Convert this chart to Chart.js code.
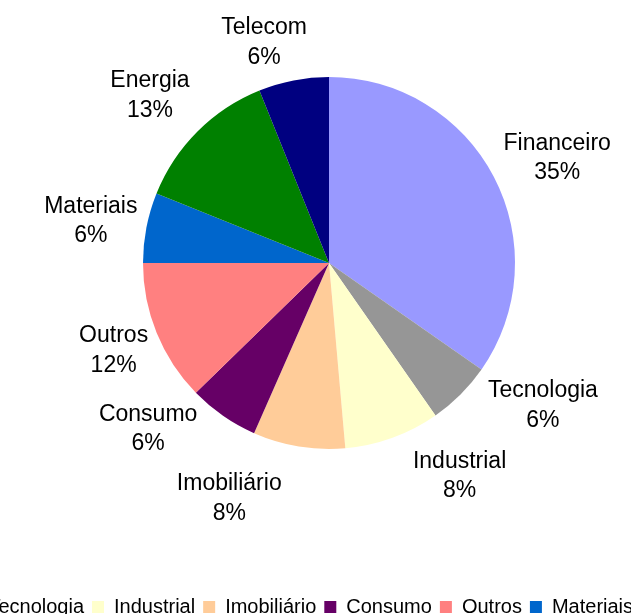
<!DOCTYPE html>
<html>
<head>
<meta charset="utf-8">
<script src="https://cdn.jsdelivr.net/npm/chart.js@4.4.0/dist/chart.umd.min.js"></script>
<style>
  html, body { margin: 0; padding: 0; background: #fff; overflow: hidden; width: 631px; height: 614px; }
  #wrap { position: absolute; left: -165px; top: -63px; width: 1200px; height: 690px; }
</style>
</head>
<body>
<div id="wrap"><canvas id="sectorChart"></canvas></div>
<script>
// Sector split of the portfolio (%)
const sectors = ['Financeiro', 'Tecnologia', 'Industrial', 'Imobiliário', 'Consumo', 'Outros', 'Materiais', 'Energia', 'Telecom'];
const weights = [34.7, 5.6, 8.3, 8.0, 6.1, 12.3, 6.1, 12.8, 6.1];
const sectorColors = ['#9999FF', '#969696', '#FFFFCC', '#FFCC99', '#660066', '#FF8080', '#0066CC', '#008000', '#000080'];

// small hand nudges (px) so the labels sit where the original had them
const labelNudge = [[5, -1], [35, -20], [47, -3], [-59, 9], [-40, -23], [0, 0], [2, 0], [-11, -8], [-19, 2]];

Chart.defaults.font.family = '"Liberation Sans", Arial, sans-serif';

// Draws "name / xx%" outside each slice
const outsideLabels = {
    id: 'outsideLabels',
    afterDatasetsDraw(chart) {
        const ctx = chart.ctx;
        const meta = chart.getDatasetMeta(0);
        const total = weights.reduce((a, b) => a + b, 0);
        ctx.save();
        ctx.font = '23px "Liberation Sans", Arial, sans-serif';
        ctx.fillStyle = '#000';
        ctx.textAlign = 'center';
        ctx.textBaseline = 'alphabetic';
        meta.data.forEach((arc, i) => {
            const mid = (arc.startAngle + arc.endAngle) / 2;
            const cos = Math.cos(mid);
            const sin = Math.sin(mid);
            const lines = [sectors[i], Math.round(weights[i] / total * 100) + '%'];
            const w = Math.max(...lines.map(t => ctx.measureText(t).width));
            const r = arc.outerRadius + 12;
            const cx = arc.x + r * cos + (w / 2) * cos + labelNudge[i][0];
            const cy = arc.y + r * sin + 30 * sin + labelNudge[i][1];
            ctx.fillText(lines[0], cx, cy - 14.75 + 8);
            ctx.fillText(lines[1], cx, cy + 14.75 + 8);
        });
        ctx.restore();
    }
};

const renderSectorChart = () => {
    const ctx = document.getElementById('sectorChart').getContext('2d');
    new Chart(ctx, {
        type: 'pie',
        data: {
            labels: sectors,
            datasets: [{
                data: weights,
                backgroundColor: sectorColors,
                borderWidth: 0,
                radius: 186,
                hoverOffset: 0,
            }],
        },
        options: {
            responsive: true,
            maintainAspectRatio: false,
            animation: false,
            events: [],
            plugins: {
                legend: {
                    position: 'bottom',
                    align: 'start',
                    labels: {
                        boxWidth: 12,
                        boxHeight: 12,
                        padding: 8,
                        color: '#000',
                        font: { size: 20 },
                    },
                },
                // empty title on the right only reserves space, pushing the pie left of the legend centre
                title: {
                    display: true,
                    position: 'right',
                    fullSize: false,
                    text: ' ',
                    font: { size: 10, lineHeight: 1.2 },
                    padding: { top: 200, bottom: 0 },
                },
                tooltip: { enabled: false },
            },
        },
        plugins: [outsideLabels],
    });
};

renderSectorChart();
</script>
</body>
</html>
